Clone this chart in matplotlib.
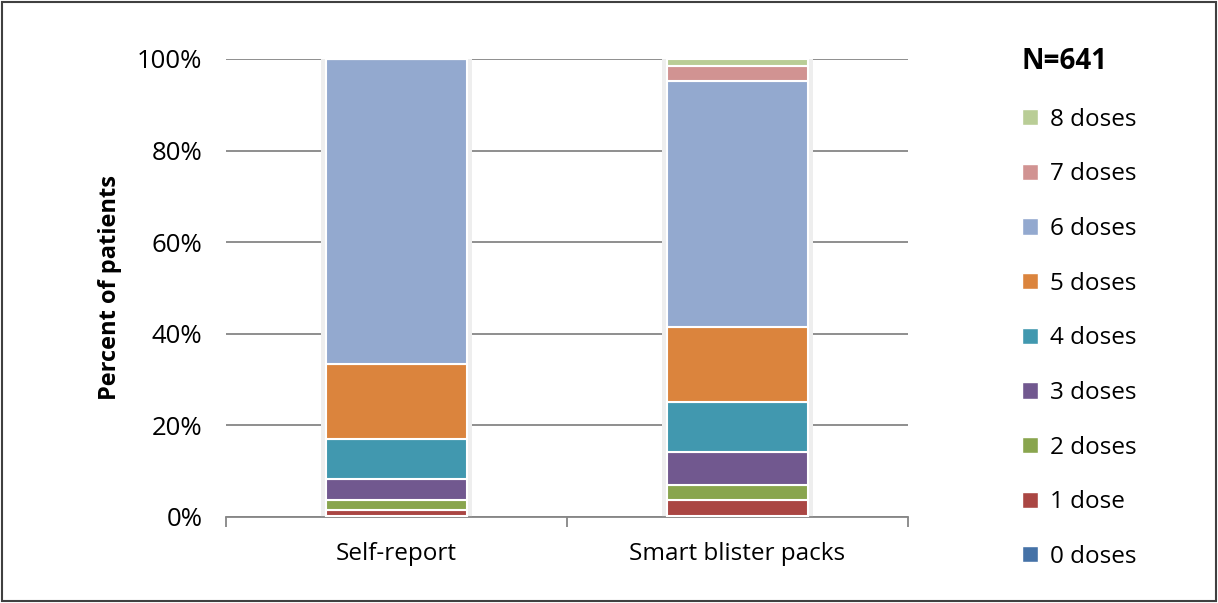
import numpy as np
import matplotlib
matplotlib.use('Agg')
import matplotlib.pyplot as plt
from matplotlib.patches import Patch, Rectangle

# data (percent of patients)
groups = ['Self-report', 'Smart blister packs']
doses = ['0 doses', '1 dose', '2 doses', '3 doses', '4 doses',
         '5 doses', '6 doses', '7 doses', '8 doses']
self_report = [0.3, 1.2, 2.2, 4.6, 8.7, 16.3, 66.7, 0.0, 0.0]
smart_blister = [0.3, 3.4, 3.2, 7.3, 11.0, 16.2, 53.7, 3.3, 1.6]
colors = ['#4572A7', '#AA4643', '#89A54E', '#71588F', '#4198AF',
          '#DB843D', '#93A9CF', '#D19392', '#B9CD96']

plt.rcParams['font.family'] = ['Open Sans', 'DejaVu Sans']

fig = plt.figure(figsize=(12.18, 6.03), dpi=100)
ax = fig.add_axes([226/1218, 1-517/603, (908-226)/1218, (517-59)/603])

vals = np.array([self_report, smart_blister])
x = np.arange(len(groups))
width = 0.415
totals = vals.sum(axis=1)
# faint shadow behind bars
ax.bar(x, totals + 0.6, width + 0.025, bottom=-0.6,
       color='#eeeeee', edgecolor='none', zorder=1)
bottom = np.zeros(len(groups))
for i, lab in enumerate(doses):
    ax.bar(x, vals[:, i], width, bottom=bottom, color=colors[i],
           edgecolor='white', linewidth=1.5, label=lab, zorder=3)
    bottom += vals[:, i]

ax.set_xlim(-0.5, 1.5)
ax.set_ylim(0, 100)
ax.set_yticks(np.arange(0, 101, 20))
ax.set_yticklabels([str(v) + '%' for v in range(0, 101, 20)], fontsize=18.5)
ax.yaxis.grid(True, color='#868686', linewidth=1.3, zorder=0)
ax.set_axisbelow(True)
ax.tick_params(axis='y', length=0, pad=17)
ax.set_xticks(x)
ax.set_xticklabels(groups, fontsize=17.5)
ax.tick_params(axis='x', length=0, pad=18)
ax.set_xticks([-0.5, 0.5, 1.5], minor=True)
ax.tick_params(axis='x', which='minor', length=7, color='#868686', width=1.3)
for s in ['top', 'right', 'left']:
    ax.spines[s].set_visible(False)
ax.spines['bottom'].set_color('#868686')
ax.spines['bottom'].set_linewidth(1.3)
ax.set_ylabel('Percent of patients', fontsize=17, fontweight='bold', labelpad=11)

handles = [Patch(facecolor=colors[i], edgecolor='white', label=doses[i])
           for i in range(len(doses) - 1, -1, -1)]
leg = fig.legend(handles=handles, loc='upper left',
                 bbox_to_anchor=(1000/1218, 1-25/603), frameon=False,
                 fontsize=17.5, title='N=641', handlelength=0.65,
                 handleheight=0.65, handletextpad=0.5, labelspacing=1.26,
                 alignment='left')
leg._legend_box.sep = 23
leg.get_title().set_fontweight('bold')
leg.get_title().set_fontsize(20)

# outer frame
fig.patches.append(Rectangle((0.002, 0.003), 0.996, 0.994, transform=fig.transFigure,
                             fill=False, edgecolor='#404040', linewidth=1.5))

fig.savefig('out.png', dpi=100)
